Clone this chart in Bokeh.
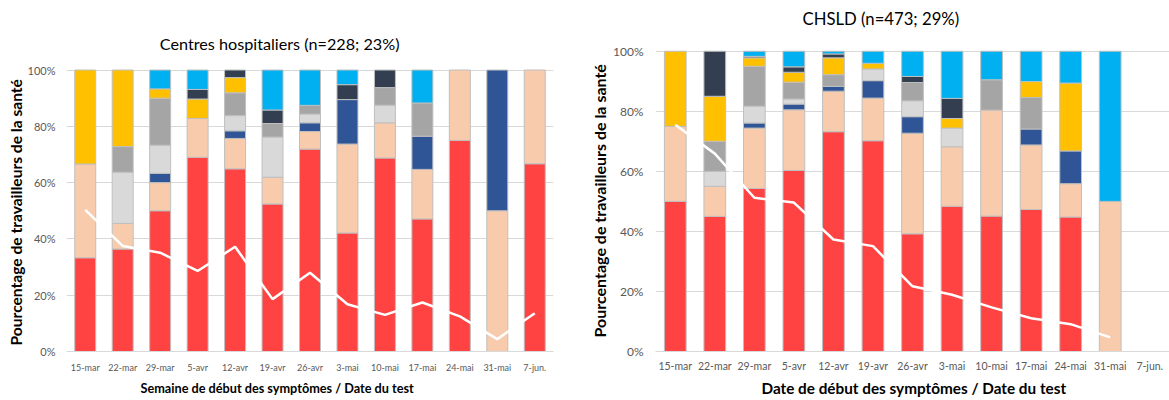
from bokeh.plotting import figure
from bokeh.layouts import row
from bokeh.models import FactorRange, Range1d, FixedTicker, PrintfTickFormatter, Title, Label
from bokeh.embed import file_html
from bokeh.resources import INLINE

categories = ["15-mar", "22-mar", "29-mar", "5-avr", "12-avr", "19-avr", "26-avr",
              "3-mai", "10-mai", "17-mai", "24-mai", "31-mai", "7-jun."]

series_colors = ["#FF4343", "#F8CBAD", "#2F5597", "#D9D9D9", "#A5A5A5", "#FFC000", "#333F50", "#00B0F0"]

# Centres hospitaliers
ch_rouge      = [33.3, 36.4, 50.0, 69.0, 64.9, 52.4, 71.9, 42.1, 68.75, 47.1, 75.0, 0, 66.7]
ch_peche      = [33.3, 9.1, 10.0, 13.8, 10.8, 9.5, 6.25, 31.6, 12.5, 17.6, 25.0, 50.0, 33.3]
ch_bleu       = [0, 0, 3.3, 0, 2.7, 0, 3.1, 15.8, 0, 11.8, 0, 50.0, 0]
ch_gris_clair = [0, 18.2, 10.0, 0, 5.4, 14.3, 3.1, 0, 6.25, 0, 0, 0, 0]
ch_gris       = [0, 9.1, 16.7, 0, 8.1, 4.8, 3.1, 0, 6.25, 11.8, 0, 0, 0]
ch_jaune      = [33.4, 27.2, 3.3, 6.9, 5.4, 0, 0, 0, 0, 0, 0, 0, 0]
ch_fonce      = [0, 0, 0, 3.4, 2.7, 4.8, 0, 5.3, 6.25, 0, 0, 0, 0]
ch_bleu_ciel  = [0, 0, 6.7, 6.9, 0, 14.2, 12.55, 5.2, 0, 11.7, 0, 0, 0]
ch_ligne      = [50.3, 37.5, 35.1, 28.6, 37.2, 18.6, 28.0, 16.8, 13.0, 17.4, 12.5, 4.4, 13.6]

# CHSLD
cs_rouge      = [50, 45, 54.3, 60.3, 73.2, 70.2, 39.2, 48.4, 45.1, 47.3, 44.8, 0, 0]
cs_peche      = [25, 10, 20.1, 20.2, 13.5, 14.2, 33.5, 19.8, 35.3, 21.5, 11.1, 50, 0]
cs_bleu       = [0, 0, 1.7, 1.9, 1.6, 5.8, 5.5, 0, 0, 5.3, 10.9, 0, 0]
cs_gris_clair = [0, 5, 5.6, 1.7, 0, 3.9, 5.3, 6.2, 0, 0, 0, 0, 0]
cs_gris       = [0, 10, 13.3, 5.6, 3.9, 0, 6.1, 0, 10.1, 10.5, 0, 0, 0]
cs_jaune      = [25, 15, 2.8, 3.3, 5.6, 1.9, 0, 3.2, 0, 5.3, 22.6, 0, 0]
cs_fonce      = [0, 15, 0.5, 1.8, 1.3, 0, 2.0, 6.7, 0, 0, 0, 0, 0]
cs_bleu_ciel  = [0, 0, 1.7, 5.2, 0.9, 4.0, 8.4, 15.7, 9.5, 10.1, 10.6, 50, 0]
cs_ligne      = [75.5, 65.9, 51.2, 49.6, 37.3, 35.1, 21.7, 18.9, 14.7, 11.1, 9.1, 4.7]

y_ticks = [0, 20, 40, 60, 80, 100]
y_label = "Pourcentage de travailleurs de la santé"

FONT = "Lato"


def make_chart(title, xlabel, stacks, line_vals, cfg):
    p = figure(x_range=FactorRange(factors=categories, range_padding=0),
               y_range=Range1d(0, cfg["ytop"]), width=cfg["width"], height=400,
               output_backend="svg", toolbar_location=None,
               min_border_left=cfg["mb_left"], min_border_right=cfg["mb_right"],
               min_border_top=0, min_border_bottom=49)
    p.title.visible = False
    p.outline_line_color = None
    p.background_fill_color = "white"
    p.border_fill_color = "white"

    bottoms = [0.0] * len(categories)
    for vals, col in zip(stacks, series_colors):
        xs, bs, ts = [], [], []
        for i, v in enumerate(vals):
            if v > 0:
                xs.append(categories[i])
                bs.append(bottoms[i])
                ts.append(bottoms[i] + v)
            bottoms[i] += v
        if xs:
            p.vbar(x=xs, bottom=bs, top=ts, width=cfg["bar_w"], fill_color=col,
                   line_color="#BFBFBF", line_width=1)

    p.line(x=categories[:len(line_vals)], y=line_vals, line_color="white", line_width=2.5)

    p.xgrid.grid_line_color = None
    p.ygrid.grid_line_color = "#D9D9D9"
    p.ygrid.grid_line_width = 1
    p.yaxis.ticker = FixedTicker(ticks=y_ticks)
    p.yaxis.formatter = PrintfTickFormatter(format="%d%%")
    p.yaxis.axis_line_color = None
    p.yaxis.major_tick_line_color = None
    p.yaxis.minor_tick_line_color = None
    p.yaxis.major_tick_out = 0
    p.yaxis.minor_tick_out = 0
    p.yaxis.major_label_text_font = FONT
    p.yaxis.major_label_text_font_size = cfg["ytick_fs"]
    p.yaxis.major_label_text_color = "#595959"
    p.yaxis.major_label_standoff = cfg["ytick_standoff"]

    p.xaxis.axis_line_color = "#D9D9D9"
    p.xaxis.major_tick_line_color = None
    p.xaxis.minor_tick_line_color = None
    p.xaxis.major_tick_out = 0
    p.xaxis.minor_tick_out = 0
    p.xaxis.major_label_text_font = FONT
    p.xaxis.major_label_text_font_size = cfg["xtick_fs"]
    p.xaxis.major_label_text_color = "#595959"
    p.xaxis.major_label_standoff = cfg["xtick_standoff"]

    p.add_layout(Title(text=y_label, align="left", offset=cfg["ytitle_offset"],
                       standoff=cfg["ytitle_standoff"], text_font=FONT,
                       text_font_size=cfg["ytitle_fs"], text_font_style="bold",
                       text_color="#000000"), "left")
    p.add_layout(Title(text=xlabel, align="left", offset=cfg["xtitle_offset"],
                       standoff=cfg["xtitle_standoff"], text_font=FONT,
                       text_font_size=cfg["xtitle_fs"], text_font_style="bold",
                       text_color="#000000"), "below")
    p.add_layout(Label(x=cfg["title_x"], y=cfg["title_y"], text=title,
                       text_align="center", text_baseline="middle", text_font=FONT,
                       text_font_size=cfg["title_fs"], text_color="#000000"))
    return p


cfg1 = dict(width=585, mb_left=66, mb_right=32, ytop=124.7, bar_w=0.56,
            ytick_fs="11px", ytick_standoff=11, xtick_fs="9px", xtick_standoff=10,
            ytitle_offset=6, ytitle_standoff=0, ytitle_fs="15.6px",
            xtitle_offset=74, xtitle_standoff=4, xtitle_fs="12.7px",
            title_x=5.69, title_y=109.4, title_fs="16.2px")
cfg2 = dict(width=584, mb_left=69, mb_right=0, ytop=116.9, bar_w=0.55,
            ytick_fs="12px", ytick_standoff=12, xtick_fs="10.5px", xtick_standoff=8,
            ytitle_offset=14, ytitle_standoff=4, ytitle_fs="16px",
            xtitle_offset=106, xtitle_standoff=4, xtitle_fs="15.3px",
            title_x=5.70, title_y=110.9, title_fs="16.7px")

p1 = make_chart("Centres hospitaliers (n=228; 23%)",
                "Semaine de début des symptômes / Date du test",
                [ch_rouge, ch_peche, ch_bleu, ch_gris_clair, ch_gris, ch_jaune, ch_fonce, ch_bleu_ciel],
                ch_ligne, cfg1)
p2 = make_chart("CHSLD (n=473; 29%)",
                "Date de début des symptômes / Date du test",
                [cs_rouge, cs_peche, cs_bleu, cs_gris_clair, cs_gris, cs_jaune, cs_fonce, cs_bleu_ciel],
                cs_ligne, cfg2)

layout = row(p1, p2, spacing=0)
open("out.html", "w").write(file_html(layout, INLINE))
